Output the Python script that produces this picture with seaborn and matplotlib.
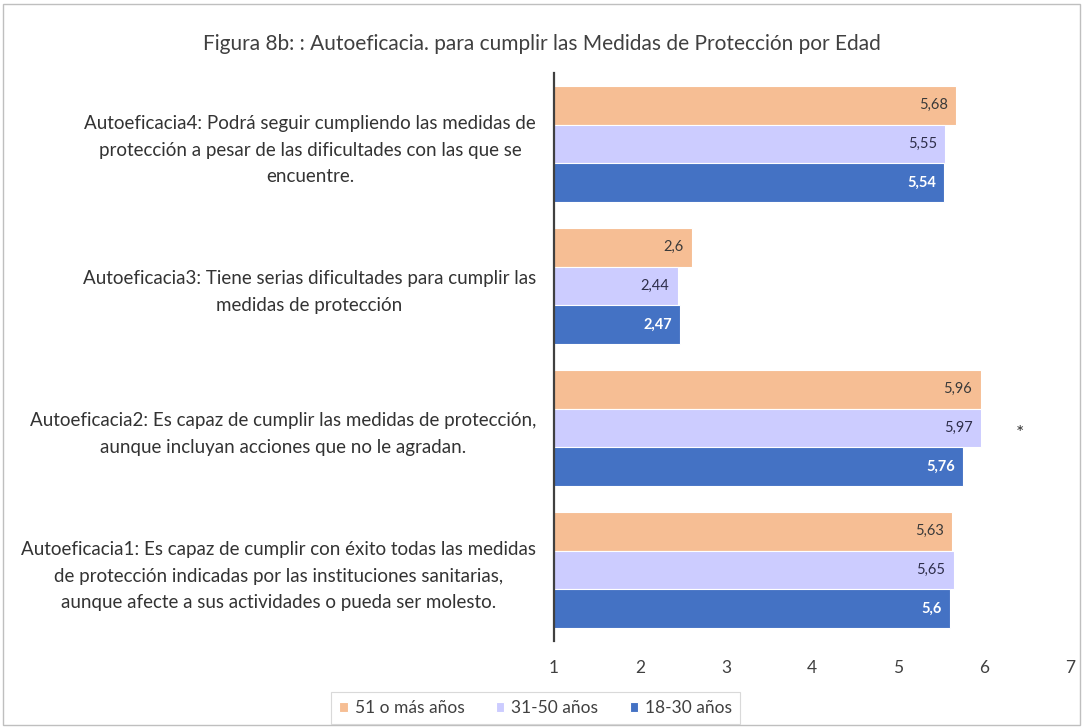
import matplotlib
matplotlib.use('Agg')
import matplotlib.pyplot as plt
import pandas as pd
import seaborn as sns
from matplotlib.patches import Rectangle

# Data
preguntas = [
    'Autoeficacia4: Podrá seguir cumpliendo las medidas de\nprotección a pesar de las dificultades con las que se\nencuentre.',
    'Autoeficacia3: Tiene serias dificultades para cumplir las\nmedidas de protección',
    'Autoeficacia2: Es capaz de cumplir las medidas de protección,\naunque incluyan acciones que no le agradan.',
    'Autoeficacia1: Es capaz de cumplir con éxito todas las medidas\nde protección indicadas por las instituciones sanitarias,\naunque afecte a sus actividades o pueda ser molesto.',
]
grupos = ['51 o más años', '31-50 años', '18-30 años']
edad_51_mas = [5.68, 2.6, 5.96, 5.63]
edad_31_50 = [5.55, 2.44, 5.97, 5.65]
edad_18_30 = [5.54, 2.47, 5.76, 5.6]
colores = ['#F6BE94', '#CCCCFF', '#4472C4']
colores_texto = ['#3A3A3A', '#2E2E4A', 'white']

rows = []
for g, vals in zip(grupos, [edad_51_mas, edad_31_50, edad_18_30]):
    for p, v in zip(preguntas, vals):
        rows.append({'Pregunta': p, 'Grupo': g, 'Valor': v})
df = pd.DataFrame(rows)

sns.set_style('white')
plt.rcParams['font.family'] = ['Lato', 'DejaVu Sans']

fig = plt.figure(figsize=(10.83, 7.27), dpi=100)
ax = fig.add_axes([0.5115, 0.1183, 0.4765, 0.7813])

sns.barplot(data=df, x='Valor', y='Pregunta', hue='Grupo', order=preguntas,
            hue_order=grupos, palette=colores, saturation=1, orient='h', width=0.82,
            edgecolor='white', linewidth=0.8, ax=ax, legend=True)

ax.set_xlim(1, 7)
ax.set_xticks(range(1, 8))
ax.set_xlabel('')
ax.set_ylabel('')
for s in ['top', 'right', 'bottom']:
    ax.spines[s].set_visible(False)
ax.spines['left'].set_color('#404040')
ax.spines['left'].set_linewidth(1.6)
ax.tick_params(axis='x', length=0, pad=14, labelsize=12.5, labelcolor='#404040')
ax.tick_params(axis='y', length=0, pad=13, labelsize=13.5, labelcolor='#333333')
for t in ax.get_yticklabels():
    t.set_multialignment('center')
    t.set_linespacing(1.65)

# data labels
for cont, tc in zip(ax.containers, colores_texto):
    for b in cont:
        txt = ('%g' % b.get_width()).replace('.', ',')
        ax.annotate(txt, (b.get_width(), b.get_y() + b.get_height() / 2),
                    xytext=(-6, 0), textcoords='offset points', ha='right', va='center',
                    color=tc, fontsize=10.5, fontweight='bold' if tc == 'white' else 'normal')

ax.text(6.42, 2.04, '*', fontsize=14, ha='center', va='center', color='#333333')

handles, lbls = ax.get_legend_handles_labels()
ax.get_legend().remove()
leg = fig.legend(handles, lbls, loc='center', bbox_to_anchor=(0.4946, 0.026), ncol=3,
                 frameon=True, fontsize=12.5, handlelength=0.5, handleheight=0.5,
                 handletextpad=0.4, columnspacing=1.8, fancybox=False, borderpad=0.45)
leg.get_frame().set_edgecolor('#D0D0D0')
leg.get_frame().set_linewidth(0.8)
for txt in leg.get_texts():
    txt.set_color('#404040')

fig.text(0.5, 0.94, 'Figura 8b: : Autoeficacia. para cumplir las Medidas de Protección por Edad',
         ha='center', va='center', fontsize=15, color='#404040')

fig.patches.append(Rectangle((0.003, 0.003), 0.994, 0.992, transform=fig.transFigure,
                             fill=False, edgecolor='#BFBFBF', linewidth=1))

plt.savefig('out.png', dpi=100)
